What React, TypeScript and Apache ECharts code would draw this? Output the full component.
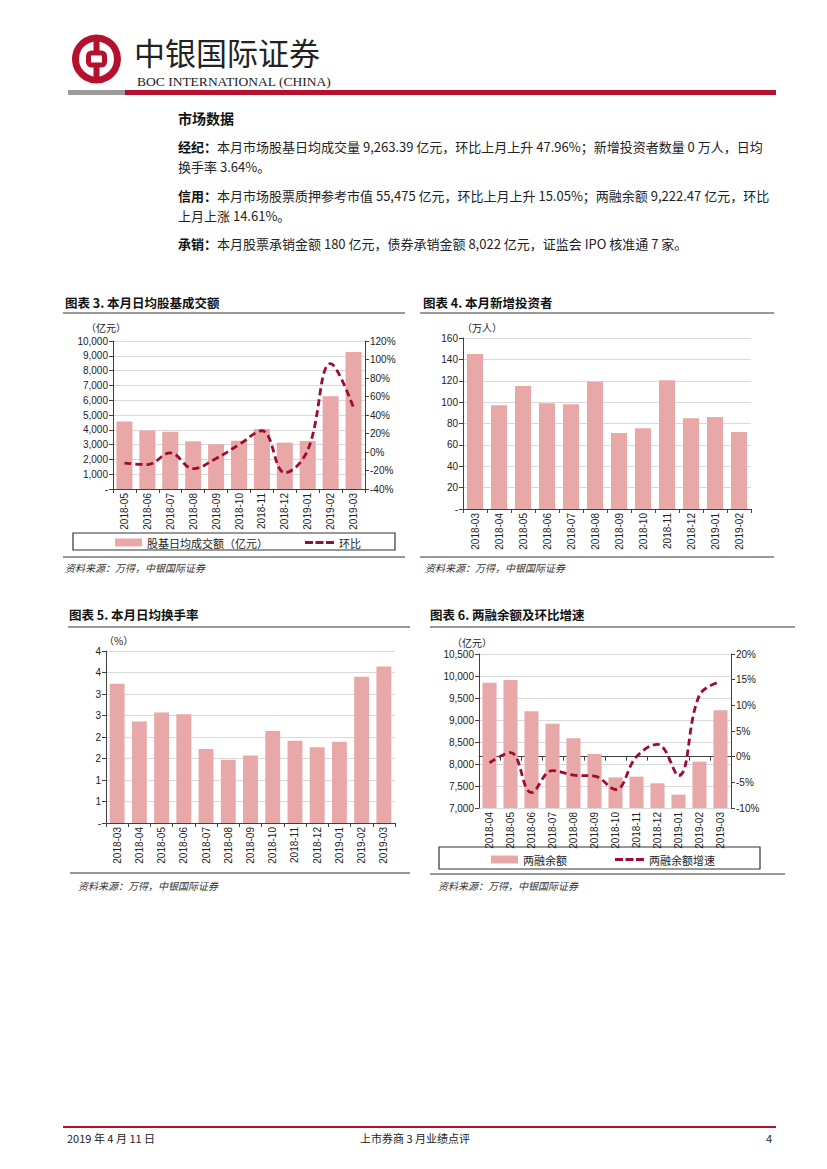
import React, { useEffect, useRef } from "react";
import * as echarts from "echarts";

// ---------- data ----------
const months3 = ["2018-05", "2018-06", "2018-07", "2018-08", "2018-09", "2018-10", "2018-11", "2018-12", "2019-01", "2019-02", "2019-03"];
const dailyTurnover = [4564, 3960, 3870, 3221, 3020, 3266, 4049, 3132, 3244, 6264, 9263];
const turnoverMoM = [-12, -13.6, -1, -18, -7, 8, 23, -22.5, 2, 95.6, 47.96];

const months4 = ["2018-03", "2018-04", "2018-05", "2018-06", "2018-07", "2018-08", "2018-09", "2018-10", "2018-11", "2018-12", "2019-01", "2019-02"];
const newInvestors = [145, 97, 115, 99, 98, 119, 71, 75.5, 120.5, 85, 86, 72];

const months5 = ["2018-03", "2018-04", "2018-05", "2018-06", "2018-07", "2018-08", "2018-09", "2018-10", "2018-11", "2018-12", "2019-01", "2019-02", "2019-03"];
const turnoverRate = [3.24, 2.36, 2.57, 2.53, 1.72, 1.47, 1.57, 2.14, 1.91, 1.76, 1.89, 3.4, 3.64];

const months6 = ["2018-04", "2018-05", "2018-06", "2018-07", "2018-08", "2018-09", "2018-10", "2018-11", "2018-12", "2019-01", "2019-02", "2019-03"];
const marginBalance = [9848, 9909, 9197, 8917, 8583, 8227, 7697, 7712, 7561, 7303, 8053, 9222];
const marginGrowth = [-1.2, 0.8, -7, -2.7, -3.6, -3.8, -6.4, 0, 2.4, -3.7, 12, 14.61];

// ---------- styles ----------
const RED = "#B5112E";
const BAR = "#E8A8A8";
const LINE = "#9E0B2F";
const AXIS = "#404040";
const GRID = "#D9D9D9";
const CJK = "'Noto Sans CJK SC', sans-serif";
const NUM = "'Liberation Sans Narrow', 'Liberation Sans', Arial, sans-serif";
const DASH_ICON = "path://M0,0h8v3h-8z M10.5,0h8v3h-8z M21,0h8v3h-8z";

const thousands = (v: number) => (v === 0 ? "-" : v.toLocaleString("en-US"));

function txt(x: number, y: number, text: string, size: number, opts: any = {}) {
  return {
    type: "text",
    x,
    y,
    silent: true,
    style: {
      text,
      fill: opts.fill || "#222",
      fontSize: size,
      fontFamily: opts.family || CJK,
      fontWeight: opts.weight || "normal",
      fontStyle: opts.style || "normal",
      align: opts.align || "left",
      verticalAlign: "middle",
      rich: opts.rich,
    },
  };
}
function rule(x1: number, x2: number, y: number, color = "#333", w = 1) {
  return { type: "line", silent: true, shape: { x1, y1: y, x2, y2: y }, style: { stroke: color, lineWidth: w } };
}

function xAxis(gridIndex: number, data: string[]) {
  return {
    type: "category",
    gridIndex,
    data,
    axisLine: { lineStyle: { color: AXIS, width: 1 } },
    axisTick: { show: true, length: 4, lineStyle: { color: AXIS } },
    axisLabel: { rotate: 90, fontSize: 10, color: "#222", margin: 4, fontFamily: NUM },
  };
}
function yAxis(gridIndex: number, min: number, max: number, interval: number, formatter: any, extra: any = {}) {
  return {
    type: "value",
    gridIndex,
    min,
    max,
    interval,
    position: extra.position || "left",
    axisLine: { show: true, lineStyle: { color: AXIS, width: 1 } },
    axisTick: { show: true, length: 4, lineStyle: { color: AXIS } },
    splitLine: { show: extra.split !== false, lineStyle: { color: GRID, width: 1 } },
    axisLabel: { formatter, fontSize: 10, color: "#222", margin: 5, fontFamily: NUM },
  };
}

const legendText = { fontSize: 11, color: "#222", fontFamily: CJK };

export default function App() {
  const ref = useRef<HTMLDivElement>(null);

  useEffect(() => {
    document.body.style.margin = "0";
    const chart = echarts.init(ref.current!, undefined, { renderer: "svg" });

    const p1 = "{b|经纪：}本月市场股基日均成交量 9,263.39 亿元，环比上月上升 47.96%；新增投资者数量 0 万人，日均";
    const p2 = "换手率 3.64%。";
    const p3 = "{b|信用：}本月市场股票质押参考市值 55,475 亿元，环比上月上升 15.05%；两融余额 9,222.47 亿元，环比";
    const p4 = "上月上涨 14.61%。";
    const p5 = "{b|承销：}本月股票承销金额 180 亿元，债券承销金额 8,022 亿元，证监会 IPO 核准通 7 家。";
    const rich = { b: { fontWeight: "bold", fontSize: 13, fontFamily: CJK, fill: "#111" } };

    const src = "资料来源：万得，中银国际证券";

    const graphic: any[] = [
      // logo
      { type: "circle", silent: true, shape: { cx: 96.5, cy: 59, r: 21 }, style: { fill: "none", stroke: RED, lineWidth: 7 } },
      { type: "rect", silent: true, shape: { x: 93.5, y: 36, width: 6, height: 46 }, style: { fill: RED } },
      { type: "rect", silent: true, shape: { x: 88.5, y: 53, width: 16, height: 12, r: 3 }, style: { fill: "#fff", stroke: RED, lineWidth: 5 } },
      txt(134, 51, "中银国际证券", 31, { fill: "#222" }),
      txt(137, 81, "BOC INTERNATIONAL (CHINA)", 13.5, { family: "'Liberation Serif', serif", fill: "#222" }),
      { type: "rect", silent: true, shape: { x: 68, y: 90, width: 57, height: 5 }, style: { fill: "#9B9B9B" } },
      { type: "rect", silent: true, shape: { x: 125, y: 90, width: 651, height: 5 }, style: { fill: RED } },

      // text block
      txt(178, 118, "市场数据", 14, { weight: "bold", fill: "#111" }),
      txt(178, 146, p1, 13, { rich }),
      txt(178, 166, p2, 13),
      txt(178, 195, p3, 13, { rich }),
      txt(178, 215, p4, 13),
      txt(178, 243, p5, 13, { rich }),

      // chart 3 frame
      txt(65, 302, "图表 3. 本月日均股基成交额", 12.5, { weight: "bold", fill: "#111" }),
      rule(63, 405, 313),
      txt(86, 327, "（亿元）", 10),
      { type: "rect", silent: true, shape: { x: 73, y: 533, width: 322, height: 17 }, style: { fill: "none", stroke: "#333", lineWidth: 1.2 } },
      rule(63, 405, 557),
      txt(65, 567, src, 10, { style: "italic", fill: "#333" }),

      // chart 4 frame
      txt(423, 302, "图表 4. 本月新增投资者", 12.5, { weight: "bold", fill: "#111" }),
      rule(420, 774, 313),
      txt(462, 327, "（万人）", 10),
      rule(420, 774, 557),
      txt(425, 567, src, 10, { style: "italic", fill: "#333" }),

      // chart 5 frame
      txt(69, 614, "图表 5. 本月日均换手率", 12.5, { weight: "bold", fill: "#111" }),
      rule(68, 410, 627),
      txt(104, 640, "（%）", 10),
      rule(70, 410, 873),
      txt(78, 885, src, 10, { style: "italic", fill: "#333" }),

      // chart 6 frame
      txt(430, 614, "图表 6. 两融余额及环比增速", 12.5, { weight: "bold", fill: "#111" }),
      rule(430, 795, 627),
      txt(452, 642, "（亿元）", 10),
      { type: "rect", silent: true, shape: { x: 439, y: 847, width: 321, height: 22 }, style: { fill: "none", stroke: "#333", lineWidth: 1.2 } },
      rule(430, 785, 874),
      txt(438, 885, src, 10, { style: "italic", fill: "#333" }),

      // footer
      rule(63, 776, 1127, RED, 2),
      txt(67, 1138, "2019 年 4 月 11 日", 11),
      txt(415, 1138, "上市券商 3 月业绩点评", 11, { align: "center" }),
      txt(772, 1138, "4", 11, { align: "right" }),
    ];

    const option: any = {
      animation: false,
      backgroundColor: "#fff",
      grid: [
        { left: 113, top: 341, width: 252, height: 148 },
        { left: 463, top: 338, width: 288, height: 171 },
        { left: 106, top: 651, width: 289, height: 172 },
        { left: 479, top: 654, width: 252, height: 154 },
      ],
      xAxis: [xAxis(0, months3), xAxis(1, months4), xAxis(2, months5), xAxis(3, months6)],
      yAxis: [
        yAxis(0, 0, 10000, 1000, thousands),
        yAxis(0, -40, 120, 20, (v: number) => `${v}%`, { position: "right", split: false }),
        yAxis(1, 0, 160, 20, (v: number) => (v === 0 ? "-" : String(v))),
        yAxis(2, 0, 4, 0.5, (v: number) => (v === 0 ? "-" : String(Math.round(v)))),
        yAxis(3, 7000, 10500, 500, (v: number) => v.toLocaleString("en-US")),
        yAxis(3, -10, 20, 5, (v: number) => `${v}%`, { position: "right", split: false }),
      ],
      legend: [
        { data: [{ name: "股基日均成交额（亿元）", icon: "rect" }], left: 115, top: 537, itemWidth: 27, itemHeight: 8, padding: 0, textStyle: legendText },
        { data: [{ name: "环比", icon: DASH_ICON }], left: 305, top: 537, itemWidth: 29, itemHeight: 3, padding: 0, textStyle: legendText },
        { data: [{ name: "两融余额", icon: "rect" }], left: 491, top: 854, itemWidth: 27, itemHeight: 8, padding: 0, textStyle: legendText },
        { data: [{ name: "两融余额增速", icon: DASH_ICON }], left: 615, top: 854, itemWidth: 29, itemHeight: 3, padding: 0, textStyle: legendText },
      ],
      series: [
        { name: "股基日均成交额（亿元）", type: "bar", xAxisIndex: 0, yAxisIndex: 0, data: dailyTurnover, barCategoryGap: "30%", itemStyle: { color: BAR } },
        { name: "环比", type: "line", xAxisIndex: 0, yAxisIndex: 1, data: turnoverMoM, smooth: 0.4, symbol: "none", lineStyle: { color: LINE, width: 2.8, type: [7, 4] }, itemStyle: { color: LINE } },
        { name: "新增投资者", type: "bar", xAxisIndex: 1, yAxisIndex: 2, data: newInvestors, barCategoryGap: "33%", itemStyle: { color: BAR } },
        { name: "日均换手率", type: "bar", xAxisIndex: 2, yAxisIndex: 3, data: turnoverRate, barCategoryGap: "33%", itemStyle: { color: BAR } },
        { name: "两融余额", type: "bar", xAxisIndex: 3, yAxisIndex: 4, data: marginBalance, barCategoryGap: "33%", itemStyle: { color: BAR } },
        { name: "两融余额增速", type: "line", xAxisIndex: 3, yAxisIndex: 5, data: marginGrowth, smooth: 0.4, symbol: "none", lineStyle: { color: LINE, width: 2.8, type: [7, 4] }, itemStyle: { color: LINE } },
      ],
      graphic,
    };

    chart.setOption(option);
    return () => chart.dispose();
  }, []);

  return <div ref={ref} style={{ position: "absolute", left: 0, top: 0, width: 827, height: 1169, background: "#fff" }} />;
}
